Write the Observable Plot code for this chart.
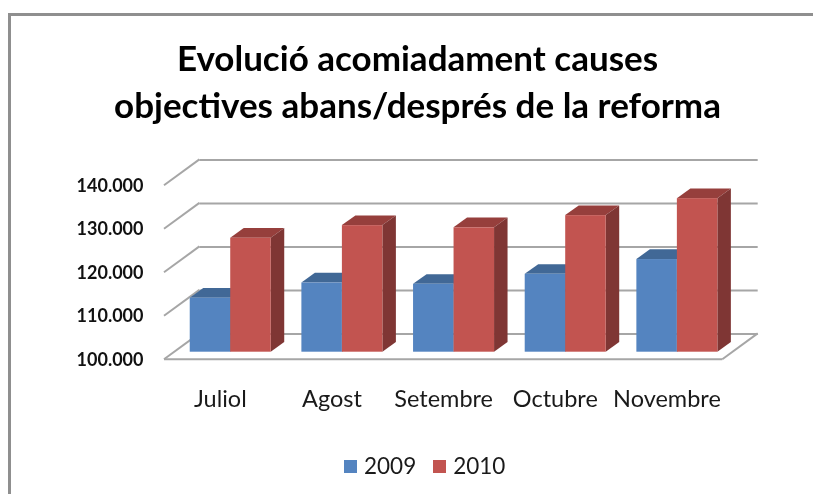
<!DOCTYPE html>
<html><head><meta charset="utf-8">
<script src="https://cdn.jsdelivr.net/npm/d3@7"></script>
<script src="https://cdn.jsdelivr.net/npm/@observablehq/plot@0.6"></script>
<style>
html,body{margin:0;padding:0;background:#fff;overflow:hidden}
#page{position:relative;width:813px;height:494px;overflow:hidden;font-family:Lato,sans-serif;filter:blur(.35px)}
#frame{position:absolute;left:8px;top:13px;width:900px;height:500px;border:3px solid #8f8f8f;box-sizing:border-box}
#title{position:absolute;left:0;top:34px;width:835px;text-align:center;font-weight:700;font-size:35px;line-height:47px;color:#000}
#chart{position:absolute;left:0;top:140px}
#legend{position:absolute;top:450px;left:344px;display:flex;align-items:center;font-size:22.5px;line-height:32px;color:#1a1a1a}
#legend i{display:inline-block;width:13px;height:13px;margin-right:7px}
#legend span{margin-right:17px}
</style></head><body>
<div id="page"><div id="frame"></div>
<div id="title">Evolució acomiadament causes<br>objectives abans/després de la reforma</div>
<div id="chart"></div>
<div id="legend"></div></div>
<script>
const months = ["Juliol","Agost","Setembre","Octubre","Novembre"];
const values2009 = [112400,115900,115600,117900,121300];
const values2010 = [126200,129100,128600,131400,135300];
const yTicks = [100000,110000,120000,130000,140000];
const years = ["2009","2010"];
const palette = {
  "2009":{front:"#5484c0",top:"#416896",side:"#3a5c85"},
  "2010":{front:"#c25450",top:"#963f3c",side:"#7f3634"}
};
const rows = y => months.map((m,i)=>({month:m,year:y,value:(y==="2009"?values2009:values2010)[i]}));
const fmt = d => d3.format(",")(d).replace(/,/g,".");

const W=813,H=290,mT=45.3,mB=70.7,mL=164,mR=813-722.3;
const depthX=35.4, depthY=-25.9;
const barDX=10.4, barDY=-7.6, faceDX=13.5, faceDY=-9.7, barW=40.5;

function box(year, shift){
  const data=rows(year);
  return Plot.barY(data,{
    x:"month", y1:()=>100000, y2:"value",
    fill:palette[year].front,
    insetLeft:(111.66-barW)/2, insetRight:(111.66-barW)/2,
    dx:barDX+shift, dy:barDY,
    render(index,scales,values,dims,ctx,next){
      const g=next(index,scales,values,dims,ctx);
      const layer=d3.create("svg:g");
      for(const i of index){
        const d=data[i];
        // the mark's dx/dy already translate this group
        const x0=scales.x(d.month)+scales.x.bandwidth()/2-barW/2, x1=x0+barW;
        const yT=scales.y(d.value), yB=scales.y(100000);
        const poly=(pts,c)=>layer.append("polygon").attr("points",pts.map(p=>p.join(",")).join(" ")).attr("fill",c);
        poly([[x0,yT],[x0+faceDX,yT+faceDY],[x1+faceDX,yT+faceDY],[x1,yT]],palette[year].top);
        poly([[x1,yT],[x1+faceDX,yT+faceDY],[x1+faceDX,yB+faceDY],[x1,yB]],palette[year].side);
      }
      g.insertBefore(layer.node(),g.firstChild);
      return g;
    }
  });
}
function floorAndWalls(index,scales,values,dims){
  const g=d3.create("svg:g").attr("stroke","#a6a6a6").attr("stroke-width",2).attr("fill","none");
  const xL=dims.marginLeft, xR=dims.width-dims.marginRight;
  for(const t of yTicks){
    const y=scales.y(t);
    g.append("line").attr("x1",xL).attr("y1",y).attr("x2",xL+depthX).attr("y2",y+depthY);
  }
  const y0=scales.y(100000);
  g.append("line").attr("x1",xL).attr("y1",y0).attr("x2",xR).attr("y2",y0);
  g.append("line").attr("x1",xR).attr("y1",y0).attr("x2",xR+depthX).attr("y2",y0+depthY);
  return g.node();
}
const plot=Plot.plot({
  width:W,height:H,marginTop:mT,marginBottom:mB,marginLeft:mL,marginRight:mR,
  style:{background:"transparent",overflow:"visible",fontFamily:"Lato,sans-serif"},
  x:{domain:months,padding:0,round:false,label:null,axis:null},
  y:{domain:[100000,140000],ticks:yTicks,label:null,axis:null},
  marks:[
    Plot.ruleY(yTicks,{stroke:"#a6a6a6",strokeWidth:2,dx:depthX,dy:depthY}),
    floorAndWalls,
    box("2009",-barW/2),
    box("2010",barW/2),
    Plot.axisY({ticks:yTicks,tickFormat:fmt,tickSize:0,tickPadding:0,anchor:"left",dx:-21,label:null,fontSize:18,fontWeight:700,fill:"#111"}),
    Plot.axisX({tickSize:0,tickPadding:0,anchor:"bottom",dy:31,label:null,fontSize:23.5,fill:"#1a1a1a"})
  ]
});
document.getElementById("chart").append(plot);
const leg=document.getElementById("legend");
years.forEach(y=>{
  const i=document.createElement("i");i.style.background=palette[y].front;
  const s=document.createElement("span");s.textContent=y;
  leg.append(i,s);
});
</script></body></html>
